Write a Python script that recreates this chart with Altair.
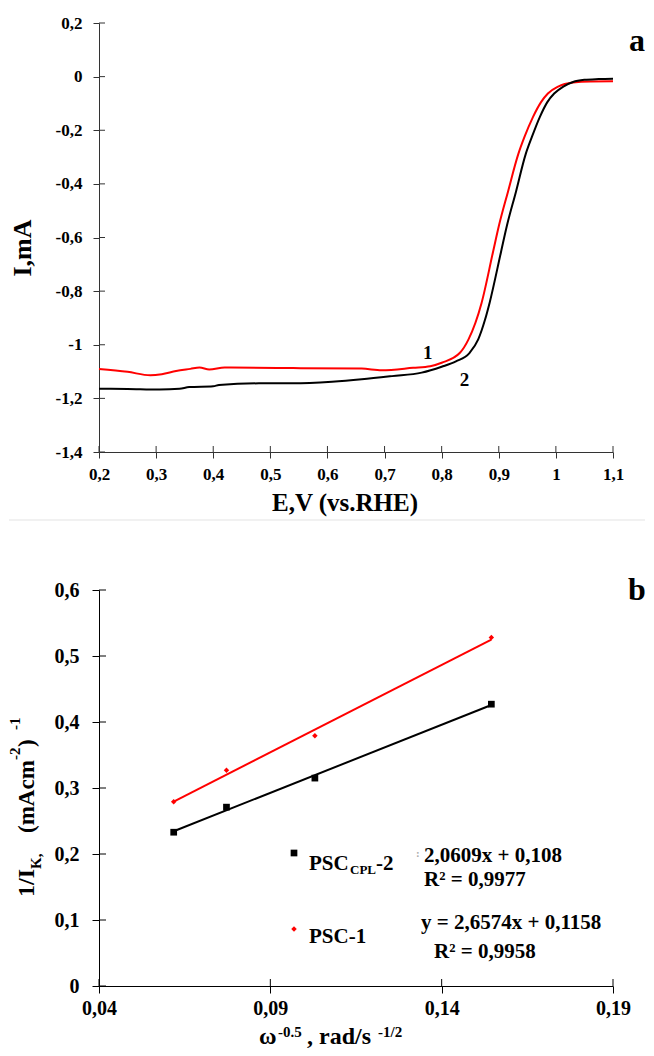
import altair as alt
import pandas as pd

# ---------------- panel a : polarisation curves ----------------
E_red = [0.20, 0.25, 0.29, 0.31, 0.335, 0.36, 0.376, 0.393, 0.42, 0.54, 0.66, 0.695,
         0.75, 0.78, 0.80, 0.832, 0.847, 0.870, 0.890, 0.900, 0.916, 0.934, 0.945,
         0.960, 0.974, 0.986, 1.004, 1.03, 1.06, 1.10]
I_red = [-1.090, -1.101, -1.114, -1.110, -1.098, -1.090, -1.085, -1.092, -1.085, -1.087,
         -1.089, -1.095, -1.086, -1.080, -1.067, -1.030, -0.980, -0.843, -0.653, -0.558,
         -0.430, -0.290, -0.225, -0.150, -0.095, -0.063, -0.037, -0.022, -0.018, -0.0175]

E_black = [0.20, 0.25, 0.306, 0.341, 0.358, 0.40, 0.41, 0.48, 0.54, 0.608, 0.66, 0.713,
           0.765, 0.80, 0.825, 0.849, 0.864, 0.876, 0.884, 0.904, 0.914, 0.930, 0.947,
           0.958, 0.972, 0.985, 0.997, 1.013, 1.03, 1.05, 1.075, 1.10]
I_black = [-1.164, -1.165, -1.167, -1.164, -1.158, -1.155, -1.150, -1.144, -1.144, -1.138,
           -1.129, -1.117, -1.104, -1.082, -1.062, -1.030, -0.980, -0.906, -0.843, -0.653,
           -0.558, -0.430, -0.290, -0.225, -0.150, -0.095, -0.063, -0.037, -0.020, -0.012,
           -0.009, -0.0075]

curve_names = ["1", "2"]
curve_label_E = [0.7756, 0.840]
curve_label_I = [-1.055, -1.155]

x_ticks_a = [0.2, 0.3, 0.4, 0.5, 0.6, 0.7, 0.8, 0.9, 1.0, 1.1]
y_ticks_a = [0.2, 0, -0.2, -0.4, -0.6, -0.8, -1.0, -1.2, -1.4]

# ---------------- panel b : Koutecky-Levich plot ----------------
omega = [0.0618, 0.0772, 0.1030, 0.1545]
inv_ik_psc_cpl2 = [0.233, 0.271, 0.315, 0.427]
inv_ik_psc1 = [0.279, 0.327, 0.379, 0.528]
series_b = ["PSC_CPL-2", "PSC-1"]

x_ticks_b = [0.04, 0.09, 0.14, 0.19]
y_ticks_b = [0, 0.1, 0.2, 0.3, 0.4, 0.5, 0.6]

FONT = "Liberation Serif"
RED = "#ff0000"
W = 514
HA = 429
HB = 396

LBL = "(datum.value < 0 ? '-' : '') + replace(format(abs(datum.value), '~g'), '.', ',')"
one = pd.DataFrame({"k": [0]})


def txt(t, x, y, size, angle=0, align="left", color="black", baseline="alphabetic"):
    kw = dict(text=t, font=FONT, fontSize=size, fontWeight="bold", align=align,
              baseline=baseline, color=color)
    if angle:
        kw["angle"] = angle
    return alt.Chart(one).mark_text(**kw).encode(x=alt.value(x), y=alt.value(y))


# ---------- top chart ----------
curves = pd.DataFrame({
    "E": E_red + E_black,
    "I": I_red + I_black,
    "curve": ["1"] * len(E_red) + ["2"] * len(E_black),
})

xa = alt.X("E:Q", scale=alt.Scale(domain=[0.2, 1.1], nice=False, zero=False),
           axis=alt.Axis(values=x_ticks_a, labelExpr=LBL, title=None, tickSize=6,
                         labelPadding=8, labelFontSize=17, domainColor="#333",
                         tickColor="#333", labelFlush=False))
ya = alt.Y("I:Q", scale=alt.Scale(domain=[-1.4, 0.2], nice=False, zero=False),
           axis=alt.Axis(values=y_ticks_a, labelExpr=LBL, title=None, tickSize=6,
                         labelPadding=11, labelFontSize=17, domainColor="#333",
                         tickColor="#333", labelFlush=False))

lines_a = alt.Chart(curves).mark_line(strokeWidth=2, interpolate="monotone").encode(
    x=xa, y=ya,
    color=alt.Color("curve:N", scale=alt.Scale(domain=["2", "1"], range=["black", RED]),
                    legend=None),
    order=alt.Order("curve:N", sort="descending"),
)
lab_a = alt.Chart(pd.DataFrame({"E": curve_label_E, "I": curve_label_I, "t": curve_names})).mark_text(
    font=FONT, fontSize=19, fontWeight="bold", align="center", baseline="alphabetic", color="black"
).encode(x=xa, y=ya, text="t:N")

ytick_in_a = alt.Chart(pd.DataFrame({"I": y_ticks_a})).mark_rule(color="#333").encode(
    y=ya, x=alt.value(0), x2=alt.value(6))
xtick_in_a = alt.Chart(pd.DataFrame({"E": x_ticks_a})).mark_rule(color="#333").encode(
    x=xa, y=alt.value(HA), y2=alt.value(HA - 6))

sep = alt.Chart(one).mark_rule(color="#e3e3e3", strokeWidth=1).encode(
    x=alt.value(-90), x2=alt.value(546), y=alt.value(497))

top = alt.layer(
    sep, ytick_in_a, xtick_in_a, lines_a, lab_a,
    txt("a", 538, 28, 32, align="center"),
    txt("I,mA", -76, 225, 26, angle=270, align="center", baseline="middle"),
    txt("E,V (vs.RHE)", 246, 488, 25, align="center"),
).properties(width=W, height=HA)

# ---------- bottom chart ----------
pts = pd.DataFrame({
    "x": omega * 2,
    "y": inv_ik_psc_cpl2 + inv_ik_psc1,
    "s": [series_b[0]] * len(omega) + [series_b[1]] * len(omega),
})

xb = alt.X("x:Q", scale=alt.Scale(domain=[0.04, 0.19], nice=False, zero=False),
           axis=alt.Axis(values=x_ticks_b, labelExpr=LBL, title=None, tickSize=7,
                         labelPadding=5, labelFontSize=20, domainColor="black",
                         tickColor="black", labelFlush=False))
yb = alt.Y("y:Q", scale=alt.Scale(domain=[0, 0.6], nice=False, zero=False),
           axis=alt.Axis(values=y_ticks_b, labelExpr=LBL, title=None, tickSize=7,
                         labelPadding=13, labelFontSize=20, domainColor="black",
                         tickColor="black", labelFlush=False))

fit_b = alt.Chart(pts).transform_regression("x", "y", groupby=["s"]).mark_line(strokeWidth=2).encode(
    x=xb, y=yb,
    color=alt.Color("s:N", scale=alt.Scale(domain=series_b, range=["black", RED]), legend=None),
)
sq_b = alt.Chart(pts).transform_filter(alt.datum.s == series_b[0]).mark_square(
    size=45, color="black", opacity=1).encode(x=xb, y=yb)
di_b = alt.Chart(pts).transform_filter(alt.datum.s == series_b[1]).mark_point(
    shape="diamond", filled=True, size=30, color=RED, opacity=1).encode(x=xb, y=yb)

ytick_in_b = alt.Chart(pd.DataFrame({"y": y_ticks_b})).mark_rule(color="black").encode(
    y=yb, x=alt.value(0), x2=alt.value(7))
xtick_in_b = alt.Chart(pd.DataFrame({"x": x_ticks_b})).mark_rule(color="black").encode(
    x=xb, y=alt.value(HB), y2=alt.value(HB - 7))

leg_sq = alt.Chart(one).mark_square(size=45, color="black", opacity=1).encode(
    x=alt.value(195), y=alt.value(263))
leg_di = alt.Chart(one).mark_point(shape="diamond", filled=True, size=30, color=RED, opacity=1).encode(
    x=alt.value(195), y=alt.value(339))

bottom = alt.layer(
    ytick_in_b, xtick_in_b, fit_b, sq_b, di_b, leg_sq, leg_di,
    txt("PSC", 210, 280, 21),
    txt("CPL", 251, 284, 13),
    txt("-2", 277, 280, 21),
    txt(":", 317, 267, 11, color="#aaaaaa"),
    txt("2,0609x + 0,108", 325, 272, 21),
    txt("R² = 0,9977", 325, 296, 21),
    txt("PSC-1", 210, 353, 21),
    txt("y = 2,6574x + 0,1158", 322, 339, 21),
    txt("R² = 0,9958", 335, 368, 21),
    # y title pieces (rotated, read bottom to top)
    txt("1/I", -72, 307, 24, angle=270, baseline="middle"),
    txt("K,", -63, 279, 15, angle=270, baseline="middle"),
    txt("(mAcm", -72, 243, 23, angle=270, baseline="middle"),
    txt("-2", -84, 170, 15, angle=270, baseline="middle"),
    txt(")", -72, 157, 23, angle=270, baseline="middle"),
    txt("-1", -84, 140, 15, angle=270, baseline="middle"),
    # x title pieces
    txt("ω", 160, 454, 24),
    txt("-0.5", 179, 447, 15),
    txt(", rad/s", 208, 454, 24),
    txt("-1/2", 279, 447, 15),
    txt("b", 538, 10, 32, align="center"),
).properties(width=W, height=HB)

chart = alt.vconcat(top, bottom, spacing=138, bounds="flush").properties(
    padding={"left": 0, "top": 6, "right": 0, "bottom": 0}
).configure_view(stroke=None).configure_axis(
    labelFont=FONT, labelFontWeight="bold", labelColor="black", grid=False, domainWidth=1,
    tickWidth=1
)

chart.save("out.html", embed_options={"renderer": "svg", "actions": False})
